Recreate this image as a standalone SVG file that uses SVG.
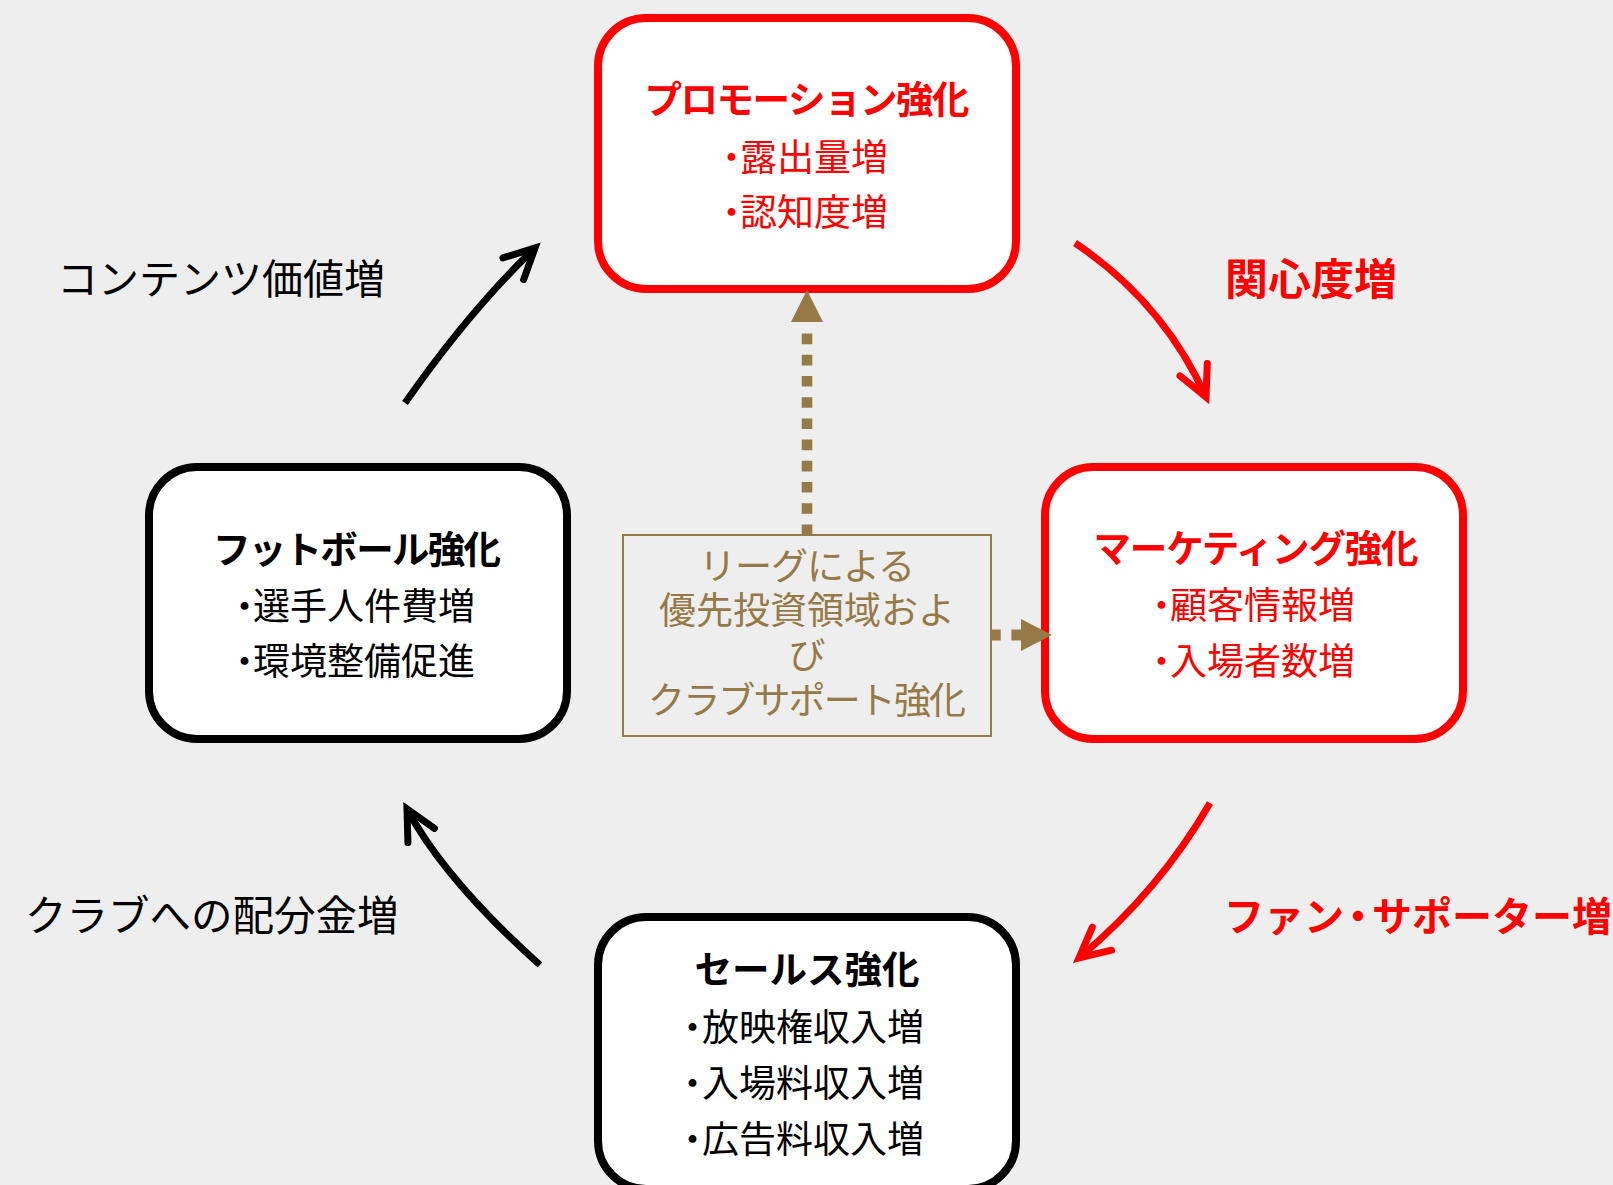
<svg xmlns="http://www.w3.org/2000/svg" width="1613" height="1185" viewBox="0 0 1613 1185">
<defs>
<style>
text{font-family:"Noto Sans CJK JP","Noto Sans CJK SC",sans-serif;}
.box{fill:#ffffff;stroke-width:8;}
.red{stroke:#ff0000;}
.blk{stroke:#000000;}
.title{font-size:37.5px;font-weight:700;text-anchor:middle;}
.item{font-size:37px;}
.rt{fill:#ff0000;}
.bt{fill:#000000;}
.brown{fill:#957a48;}
.center{font-size:37px;text-anchor:middle;fill:#957a48;}
.arrow{fill:none;stroke-width:7;stroke-linecap:butt;}
.dash{fill:none;stroke:#957a48;}
</style>
<marker id="ahRed" markerUnits="userSpaceOnUse" orient="auto" overflow="visible" refX="0" refY="0" markerWidth="1" markerHeight="1">
<path d="M-30,-15 L0,0 L-30,15" fill="none" stroke="#ff0000" stroke-width="7" stroke-linecap="round" stroke-linejoin="miter"/>
</marker>
<marker id="ahBlk" markerUnits="userSpaceOnUse" orient="auto" overflow="visible" refX="0" refY="0" markerWidth="1" markerHeight="1">
<path d="M-30,-15 L0,0 L-30,15" fill="none" stroke="#000000" stroke-width="7" stroke-linecap="round" stroke-linejoin="miter"/>
</marker>
</defs>
<rect x="0" y="0" width="1613" height="1185" fill="#eeeeee"/>

<g id="node-promotion">
<rect class="box red" x="598" y="18" width="418" height="271" rx="48" ry="48"/>
<text class="title rt" x="807" y="113" textLength="325">プロモーション強化</text>
<text class="item rt" x="713" y="171" dx="0 -10">・露出量増</text>
<text class="item rt" x="713" y="226" dx="0 -10">・認知度増</text>
</g>

<g id="node-marketing">
<rect class="box red" x="1045" y="467" width="418" height="272" rx="48" ry="48"/>
<text class="title rt" x="1256" y="562" textLength="325">マーケティング強化</text>
<text class="item rt" x="1143" y="619" dx="0 -10">・顧客情報増</text>
<text class="item rt" x="1143" y="675" dx="0 -10">・入場者数増</text>
</g>

<g id="node-football">
<rect class="box blk" x="149" y="467" width="418" height="272" rx="48" ry="48"/>
<text class="title bt" x="357" y="563" textLength="288">フットボール強化</text>
<text class="item bt" x="226" y="620" dx="0 -10">・選手人件費増</text>
<text class="item bt" x="226" y="675" dx="0 -10">・環境整備促進</text>
</g>

<g id="node-sales">
<rect class="box blk" x="598" y="917" width="418" height="272" rx="48" ry="48"/>
<text class="title bt" x="807" y="983">セールス強化</text>
<text class="item bt" x="674" y="1041" dx="0 -9">・放映権収入増</text>
<text class="item bt" x="674" y="1097" dx="0 -9">・入場料収入増</text>
<text class="item bt" x="674" y="1153" dx="0 -9">・広告料収入増</text>
</g>

<g id="node-league">
<rect x="623" y="535" width="368" height="201" fill="none" stroke="#957a48" stroke-width="2"/>
<text class="center"><tspan x="807" y="580" textLength="216">リーグによる</tspan><tspan x="807" y="624">優先投資領域およ</tspan><tspan x="807" y="669">び</tspan><tspan x="807" y="714" textLength="318">クラブサポート強化</tspan></text>
</g>

<g id="connectors">
<path class="arrow" stroke="#000000" d="M405,403 Q470,310 535,248" marker-end="url(#ahBlk)"/>
<path class="arrow" stroke="#ff0000" d="M1075,243 Q1163,302 1206,397" marker-end="url(#ahRed)"/>
<path class="arrow" stroke="#ff0000" d="M1210,803 Q1160,890 1079,958" marker-end="url(#ahRed)"/>
<path class="arrow" stroke="#000000" d="M540,965 Q445,880 407,809" marker-end="url(#ahBlk)"/>
<path class="dash" d="M807,535 V333" stroke-width="10.6" stroke-dasharray="10.6 10.6"/>
<polygon class="brown" points="807,290 791,322 823,322"/>
<path class="dash" d="M990,635 H1022" stroke-width="11" stroke-dasharray="10.7 10.7"/>
<polygon class="brown" points="1052,635 1021,619 1021,651"/>
</g>

<g id="labels">
<text x="57" y="294" font-size="41" fill="#000000">コンテンツ価値増</text>
<text x="1225" y="295" font-size="43" font-weight="700" fill="#ff0000">関心度増</text>
<text x="1224" y="931" font-size="40" font-weight="700" fill="#ff0000" dx="0 0 0 -6 -6">ファン・サポーター増</text>
<text x="25" y="931" font-size="41.5" fill="#000000">クラブへの配分金増</text>
</g>
</svg>
